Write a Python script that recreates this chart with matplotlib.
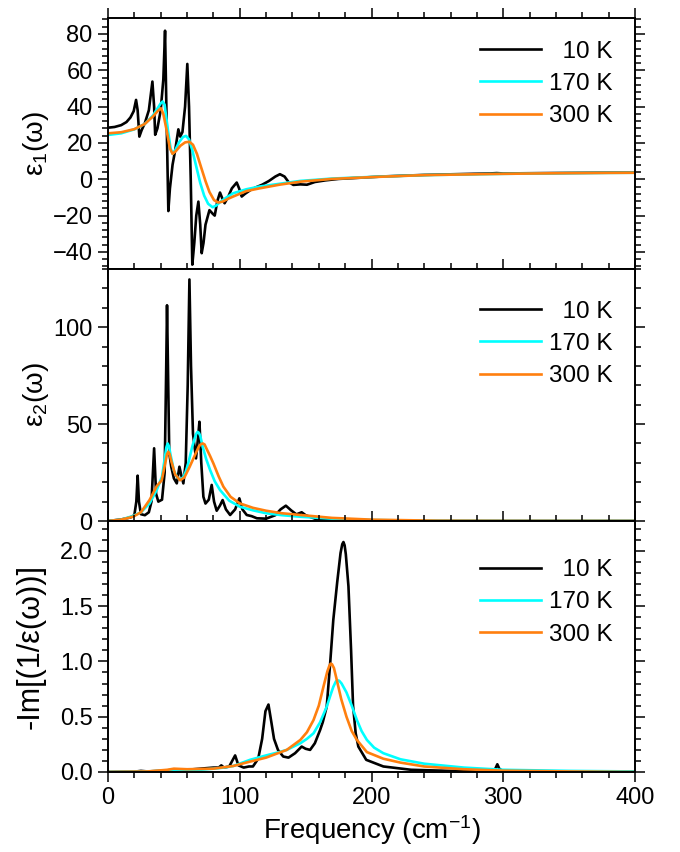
import matplotlib
matplotlib.use("Agg")
import matplotlib.pyplot as plt
from matplotlib.ticker import MultipleLocator

plt.rcParams['font.family'] = ['Liberation Sans', 'DejaVu Sans']
plt.rcParams['mathtext.fontset'] = 'custom'
plt.rcParams['mathtext.rm'] = 'Liberation Sans'
plt.rcParams['mathtext.it'] = 'Liberation Sans'

labels = ["\u200710 K", "170 K", "300 K"]
colors = ["black", "#00FFFF", "#FF7F0E"]

# ---- Panel 1: eps1 ----
e1_10_x = [0, 5, 10, 14, 17, 19.5, 21.3, 22.5, 23.8, 25.5, 28, 31, 33.7, 35, 35.8, 37.5, 40, 42, 43.3, 44.3,
           45.8, 47, 49, 51, 53.4, 54.8, 56.5, 58.5, 60.2, 61.5, 62.8, 64, 65.5, 67, 68.6, 70, 71.1, 72.5, 74,
           77, 79.5, 81, 83, 85, 87, 88.5, 91, 94, 97.7, 99.5, 101.5, 104, 108, 112, 117, 122, 127, 130.5, 134,
           137, 140.7, 146, 151, 157, 165, 175, 190, 210, 240, 270, 290, 295, 300, 330, 370, 400]
e1_10_y = [28.4, 28.8, 29.8, 31.5, 34, 37.5, 43.7, 38, 23.5, 27, 31, 38, 53.8, 40, 24.5, 28, 38, 55, 81.8, 40,
           -17.5, -5, 8, 16, 27.5, 23.5, 26, 40, 63.5, 40, 0, -47, -35, -20, -12.3, -25, -40.7, -35, -25,
           -17, -19, -20, -12, -7.3, -11, -13.2, -10, -5, -1.8, -5, -9.5, -8, -6, -4.5, -3, -1, 1.5, 2.8, 1.5,
           -1.5, -3.1, -2.8, -3, -1.5, -0.6, 0.2, 0.8, 1.6, 2.4, 2.9, 3.2, 3.4, 3.2, 3.4, 3.6, 3.7]
e1_170_x = [0, 10, 20, 28, 34, 38, 40, 41.5, 43, 43.5, 45.5, 47.5, 49, 51, 54, 57, 59.2, 61.5, 64, 67, 70, 73,
            76, 79.4, 82, 86, 91, 95, 105, 115, 130, 146, 170, 200, 240, 300, 350, 400]
e1_170_y = [24.4, 25.3, 27.5, 30.5, 35, 39.5, 41.8, 42.8, 41, 38, 27, 17, 14, 16, 20.5, 23.3, 23.9, 22, 16, 7,
            -2, -9, -13.5, -15.4, -14.5, -12, -9.5, -7.7, -5.5, -4, -2.5, -0.9, 0.4, 1.3, 2.3, 3.0, 3.4, 3.6]
e1_300_x = [0, 10, 20, 28, 34, 38, 40.2, 42, 44.5, 47, 49, 51.5, 55, 58.5, 61.7, 64.5, 67.5, 70.5, 74, 77,
            80.5, 83.7, 87, 91, 95, 105, 115, 130, 146, 170, 200, 240, 300, 350, 400]
e1_300_y = [25.3, 25.9, 27.6, 30.5, 34.5, 37.8, 39.1, 36, 27, 17, 14, 15.5, 18.5, 20.3, 20.7, 19, 14, 7, -1, -7,
            -11.5, -12.8, -12.3, -10.8, -9.5, -6.5, -5, -3, -1.3, 0.2, 1.2, 2.3, 3.0, 3.4, 3.6]

# ---- Panel 2: eps2 ----
e2_10_x = [0, 10, 17, 20, 21.5, 22.5, 23.5, 25, 28, 31, 33, 35, 36.5, 38.2, 41, 43, 44.2, 44.8, 45.5, 46.5,
           48, 50, 52.2, 54.2, 55.5, 57.2, 59, 60.5, 61.8, 63, 64.5, 66.8, 68.2, 69.4, 70.8, 72.4, 74, 76.5,
           78.7, 80.5, 82.5, 85, 87, 89.5, 92.7, 96.5, 99.7, 102, 105.3, 109, 113, 120, 127, 131, 135, 139,
           143, 147, 150, 157, 170, 200, 250, 300, 400]
e2_10_y = [0, 0.8, 1.8, 3, 10, 23.4, 10, 3.5, 3, 4.5, 10, 37.5, 14, 10, 11, 25, 80, 111.3, 80, 35,
           28, 22, 19.4, 28, 24, 19.4, 30, 70, 124.6, 80, 45, 32.3, 42, 51.2, 30, 12.5, 9, 11,
           18.6, 10, 5.3, 8, 10.8, 6, 3.1, 6, 11.7, 6, 3.1, 2.5, 1.4, 1.2, 3, 6, 7.9, 5.5,
           3.4, 4.5, 3, 1.2, 0.4, 0.1, 0, 0, 0]
e2_170_x = [0, 10, 19, 25, 31.5, 37, 41, 43, 44.3, 45.3, 46.3, 47.5, 50, 52.5, 54.7, 57, 59, 61, 64, 66, 67,
            68, 69, 70, 72, 74.5, 77.5, 81, 85, 92, 100, 110, 120, 132, 146, 170, 200, 250, 300, 400]
e2_170_y = [0, 0.7, 2.6, 4.5, 9, 16, 22.9, 32, 38, 40, 38.5, 34, 26, 22.5, 21.5, 22.5, 25.5, 30, 38.5, 43, 45,
            46, 45.5, 44, 38, 32, 26.3, 20.5, 16, 10.5, 7.4, 5.5, 4, 3, 2.2, 1.2, 0.5, 0.1, 0, 0]
e2_300_x = [0, 10, 19, 25, 31.5, 37, 40.8, 43.5, 44.8, 45.8, 46.8, 48, 51, 54.7, 58, 62, 66, 69, 70.5, 71.9,
            73.3, 75, 77.5, 80, 84, 87.6, 93, 100, 110, 120, 132, 146, 170, 200, 250, 300, 400]
e2_300_y = [0, 0.7, 2.2, 4.5, 10.8, 18, 21, 30, 34.5, 35.7, 34.5, 31, 24, 21, 22.5, 28, 34, 38.5, 39.6, 40,
            39.5, 37, 33.5, 29.7, 23, 17.7, 12.5, 9.1, 6.8, 5.3, 4, 3.1, 1.6, 0.7, 0.15, 0.03, 0]

# ---- Panel 3: loss function ----
L_10_x = [0, 20, 25, 30, 40, 50, 60, 70, 80, 84, 86, 88, 92, 96.5, 99, 103, 107, 110, 114, 117, 119.5,
          121.8, 124, 126, 129, 133, 137, 142, 147, 150, 153.4, 157, 161, 163, 166, 168.6, 171, 174, 176.5,
          177.8, 178.7, 179.6, 180.5, 182.5, 184.5, 186, 188, 190, 196, 209, 230, 260, 290, 294, 295.5, 297,
          300, 400]
L_10_y = [0, 0.003, 0.01, 0.005, 0.01, 0.02, 0.02, 0.03, 0.04, 0.04, 0.06, 0.04, 0.05, 0.15, 0.06, 0.04,
          0.05, 0.05, 0.12, 0.3, 0.55, 0.61, 0.45, 0.3, 0.2, 0.14, 0.13, 0.17, 0.23, 0.21, 0.2, 0.26, 0.38,
          0.45, 0.59, 0.98, 1.375, 1.72, 1.98, 2.06, 2.08, 2.05, 1.97, 1.68, 1.1, 0.6, 0.35, 0.23, 0.11, 0.05,
          0.02, 0.01, 0.005, 0.03, 0.07, 0.03, 0.005, 0]
L_170_x = [0, 30, 50, 70, 80, 88, 95, 107.8, 120, 130, 135.7, 146, 151, 156, 161, 166, 169, 171, 173, 174,
           175.5, 177.3, 181, 185, 188.9, 192.5, 196.5, 202, 209, 222, 240, 270, 300, 350, 400]
L_170_y = [0, 0.005, 0.015, 0.02, 0.03, 0.04, 0.054, 0.11, 0.15, 0.18, 0.2, 0.26, 0.3, 0.35, 0.45, 0.59, 0.7,
           0.77, 0.82, 0.83, 0.825, 0.8, 0.72, 0.6, 0.47, 0.37, 0.29, 0.22, 0.17, 0.115, 0.075, 0.04, 0.02,
           0.01, 0.005]
L_300_x = [0, 30, 45, 50, 60, 80, 95, 107.8, 120, 135.7, 146, 151, 156, 160, 163.5, 166.5, 168, 169, 170,
           171.5, 173.7, 177, 181, 185, 188.9, 196.5, 209, 222, 240, 270, 300, 350, 400]
L_300_y = [0, 0.005, 0.02, 0.03, 0.025, 0.03, 0.054, 0.094, 0.13, 0.2, 0.29, 0.36, 0.47, 0.6, 0.77, 0.91,
           0.96, 0.98, 0.975, 0.94, 0.83, 0.66, 0.5, 0.37, 0.29, 0.18, 0.12, 0.085, 0.05, 0.025, 0.012,
           0.005, 0]

panels = [
    ([(e1_10_x, e1_10_y), (e1_170_x, e1_170_y), (e1_300_x, e1_300_y)],
     "ε$_{1}$(ω)", (-49.4, 88.8), 20, 4, 0.91),
    ([(e2_10_x, e2_10_y), (e2_170_x, e2_170_y), (e2_300_x, e2_300_y)],
     "ε$_{2}$(ω)", (0, 130), 50, 10, 0.874),
    ([(L_10_x, L_10_y), (L_170_x, L_170_y), (L_300_x, L_300_y)],
     "-Im[(1/ε(ω))]", (0, 2.27), 0.5, 0.1, 0.848),
]

fig = plt.figure(figsize=(6.8, 8.52), dpi=100)
left, right = 108 / 680, 635 / 680
bounds = [(18, 269), (269, 521), (521, 772)]
fs = 17
for i, (series, ylab, ylim, maj, mnr, legy) in enumerate(panels):
    top_px, bot_px = bounds[i]
    ax = fig.add_axes([left, 1 - bot_px / 852, right - left, (bot_px - top_px) / 852])
    for (xs, ys), c, lab in zip(series, colors, labels):
        ax.plot(xs, ys, color=c, lw=1.9, label=lab, solid_joinstyle='round')
    ax.set_xlim(0, 400)
    ax.set_ylim(*ylim)
    ax.xaxis.set_major_locator(MultipleLocator(100))
    ax.xaxis.set_minor_locator(MultipleLocator(20))
    ax.yaxis.set_major_locator(MultipleLocator(maj))
    ax.yaxis.set_minor_locator(MultipleLocator(mnr))
    ax.tick_params(which='both', direction='out', top=True, right=True, width=1.1, labelsize=fs)
    ax.tick_params(which='major', length=7.5)
    ax.tick_params(which='minor', length=4)
    for s in ax.spines.values():
        s.set_linewidth(1.4)
    if i < 2:
        ax.tick_params(labelbottom=False)
    else:
        ax.set_xlabel("Frequency (cm$^{-1}$)", fontsize=20, labelpad=3)
    if i == 1:
        ax.set_yticks([0, 50, 100])
    if i == 0:
        ax.set_yticks([-40, -20, 0, 20, 40, 60, 80])
    ax.set_ylabel(ylab, fontsize=(22 if i == 2 else 20))
    ax.yaxis.set_label_coords(-0.108 if i < 2 else -0.118, 0.5)
    leg = ax.legend(loc='upper right', bbox_to_anchor=(0.958, legy), frameon=False, fontsize=17.5,
                    handlelength=2.5, handletextpad=0.35, labelspacing=0.42, borderpad=0, borderaxespad=0)
    for h in leg.get_lines():
        h.set_linewidth(1.9)

fig.savefig("out.png", dpi=100)
